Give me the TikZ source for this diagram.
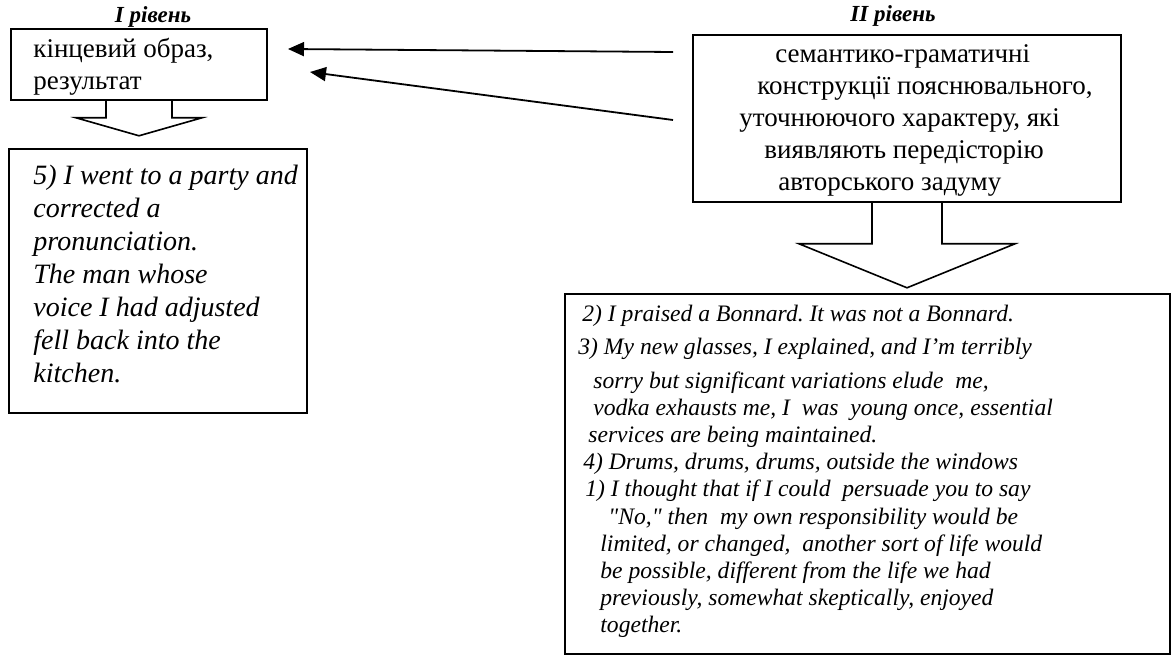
\documentclass[tikz,border=0pt]{standalone}
\usepackage{fontspec}
\setmainfont{Liberation Serif}
\usepackage{tikz}
\usetikzlibrary{arrows.meta,calc,positioning}

\tikzset{
  frame/.style={draw, line width=0.8pt, inner sep=0pt},
  txt/.style={anchor=north west, inner sep=0pt, align=left},
  level/.style={font=\bfseries\itshape\fontsize{11.5}{13}\selectfont, inner sep=0pt},
  link/.style={line width=0.9pt, -{Triangle[length=8pt,width=7pt]}},
  hollow/.style={line width=0.8pt, line join=miter}
}

\begin{document}
\frenchspacing
\begin{tikzpicture}[x=0.5pt, y=-0.5pt]
\useasboundingbox (0,0) rectangle (1173,657);
% level I
\node[level] (lev1) at (153,17) {I рівень};
\node[frame, minimum width=128pt, minimum height=35.5pt] (res) at (139,64.5) {};
\node[txt, font=\fontsize{13.5}{16}\selectfont] (resText) at (33,38) {кінцевий образ,\\результат};
\draw[hollow, shift={(res.south)}] (-33,0) -- (-33,17) -- (-63,17) -- (0,35) -- (63,17) -- (33,17) -- (33,0);
\node[frame, minimum width=149pt, minimum height=132pt] (ex1) at (158,281) {};
\node[txt, font=\itshape\fontsize{14}{16.5}\selectfont] (ex1Text) at (33,165)
  {5) I went to a party and\\corrected a\\pronunciation.\\The man whose\\voice I had adjusted\\fell back into the\\kitchen.};
% level II
\node[level] (lev2) at (893,16) {II рівень};
\node[frame, minimum width=214pt, minimum height=83.5pt] (sem) at (907,118.5) {};
\node[txt, font=\fontsize{13.5}{16}\selectfont] (semText) at (739,44)
  {\hspace*{18pt}семантико-граматичні\\
   \hspace*{9pt}конструкції пояснювального,\\
   уточнюючого характеру, які\\
   \hspace*{12.5pt}виявляють передісторію\\
   \hspace*{19.5pt}авторського задуму};
\draw[hollow, shift={(sem.south)}] (-35,0) -- (-35,41) -- (-108,41) -- (0,85) -- (108,41) -- (35,41) -- (35,0);
\node[frame, minimum width=302.5pt, minimum height=180pt] (ex2) at (867.5,474) {};
\node[txt, font=\itshape\fontsize{11.8}{13.6}\selectfont] (ex2Text) at (578,305)
  {\hspace*{2pt}2) I praised a Bonnard. It was not a Bonnard.\\[3pt]
   3) My new glasses, I explained, and I'm terribly\\[3pt]
   \hspace*{7.5pt}sorry but significant variations elude\ \ me,\\
   \hspace*{7.5pt}vodka exhausts me, I\ \ was\ \ young once, essential\\
   \hspace*{5pt}services are being maintained.\\
   \hspace*{2.5pt}4) Drums, drums, drums, outside the windows\\
   \hspace*{3.5pt}1) I thought that if I could\ \ persuade you to say\\
   \hspace*{15pt}\textquotedbl No,\textquotedbl\ then\ \ my own responsibility would be\\
   \hspace*{11pt}limited, or changed,\ \ another sort of life would\\
   \hspace*{11pt}be possible, different from the life we had\\
   \hspace*{11pt}previously, somewhat skeptically, enjoyed\\
   \hspace*{11pt}together.};
% links from level II to level I
\coordinate (from1) at (673,52);
\coordinate (to1) at (288,49);
\coordinate (from2) at (673,120);
\coordinate (to2) at (310,72);
\draw[link] (from1) -- (to1);
\draw[link] (from2) -- (to2);
\end{tikzpicture}
\end{document}
